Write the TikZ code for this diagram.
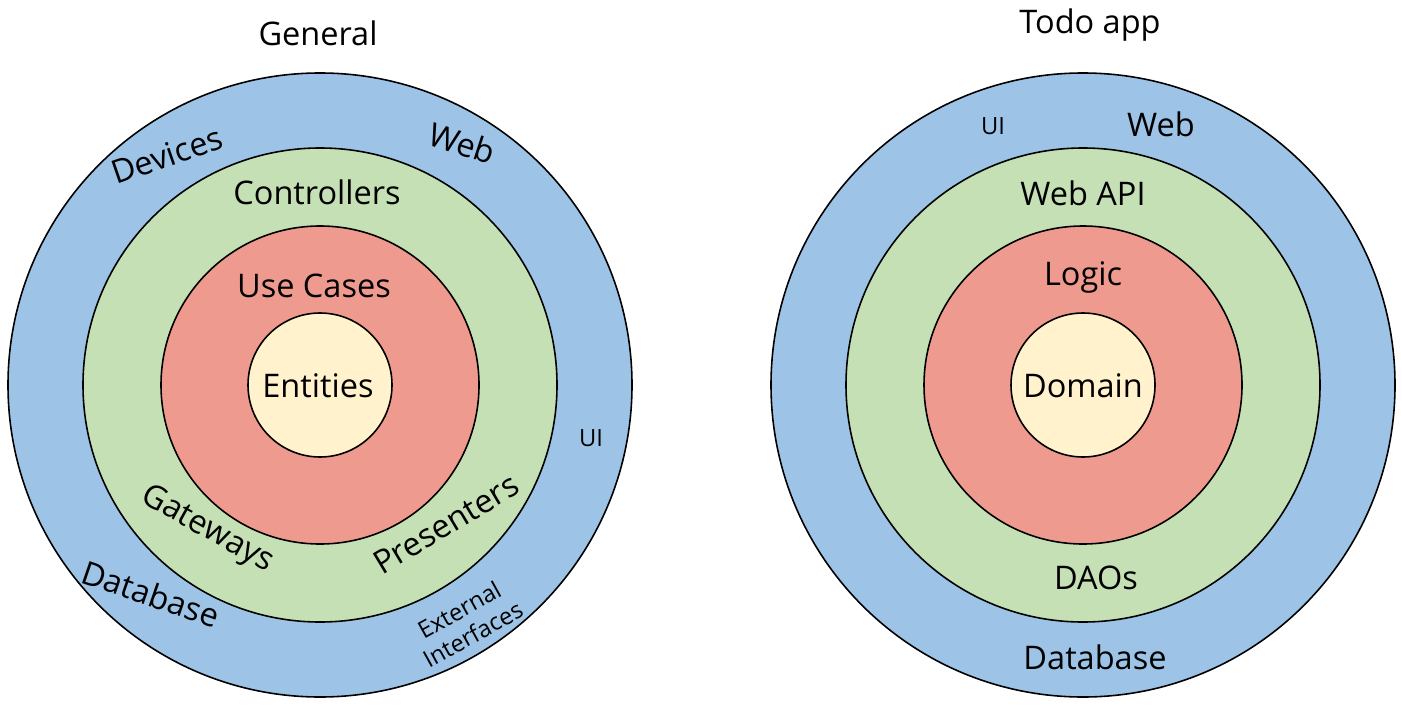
\documentclass[tikz,border=0pt]{standalone}
\usepackage{fontspec}
\setmainfont{Open Sans}
\usetikzlibrary{math}
\definecolor{ringblue}{RGB}{157,195,230}
\definecolor{ringgreen}{RGB}{197,224,180}
\definecolor{ringred}{RGB}{238,154,143}
\definecolor{ringyellow}{RGB}{255,242,204}
\tikzset{
  ring/.style={draw=black, line width=0.9pt},
  lbl/.style={font=\fontsize{18.5}{22}\selectfont, inner sep=0pt},
  smalllbl/.style={font=\fontsize{13.5}{16}\selectfont, inner sep=0pt, align=center}
}

\begin{document}
\begin{tikzpicture}[x=0.02cm,y=-0.02cm]
\tikzmath{
\ro=312*0.02;
\rg=237*0.02;
\rr=159*0.02;
\ry=72*0.02;
}
\useasboundingbox (0,0) rectangle (1402,706);

%left: general
\begin{scope}[shift={(320,385)}]
\fill[ringblue] (0,0) circle({\ro cm});
\draw[ring] (0,0) circle({\ro cm});
\fill[ringgreen] (0,0) circle({\rg cm});
\draw[ring] (0,0) circle({\rg cm});
\fill[ringred] (0,0) circle({\rr cm});
\draw[ring] (0,0) circle({\rr cm});
\fill[ringyellow] (0,0) circle({\ry cm});
\draw[ring] (0,0) circle({\ry cm});

\node[lbl] (entities) at (-2,1) {Entities};
\node[lbl] (usecases) at (-6,-99) {Use Cases};
\node[lbl] (controllers) at (-3,-193) {Controllers};
\node[lbl,rotate=-29] (gateways) at (-113,145) {Gateways};
\node[lbl,rotate=31] (presenters) at (126,139) {Presenters};
\node[lbl,rotate=19] (devices) at (-153,-230) {Devices};
\node[lbl,rotate=-18] (web) at (142,-242) {Web};
\node[lbl,rotate=-19] (database) at (-169,209) {Database};
\node[smalllbl] (ui) at (271,53) {UI};
\node[smalllbl,rotate=29] (external) at (146,237) {External\\Interfaces};
\end{scope}
\node[lbl] (general) at (318,33) {General};

%right: todo app
\begin{scope}[shift={(1083,385)}]
\fill[ringblue] (0,0) circle({\ro cm});
\draw[ring] (0,0) circle({\ro cm});
\fill[ringgreen] (0,0) circle({\rg cm});
\draw[ring] (0,0) circle({\rg cm});
\fill[ringred] (0,0) circle({\rr cm});
\draw[ring] (0,0) circle({\rr cm});
\fill[ringyellow] (0,0) circle({\ry cm});
\draw[ring] (0,0) circle({\ry cm});

\node[lbl] (domain) at (0,1) {Domain};
\node[lbl] (logic) at (0,-108) {Logic};
\node[lbl] (webapi) at (0,-192) {Web API};
\node[lbl] (daos) at (13,193) {DAOs};
\node[lbl] (database) at (12,272) {Database};
\node[smalllbl] (ui) at (-90,-259) {UI};
\node[lbl] (web) at (78,-261) {Web};
\end{scope}
\node[lbl] (todo) at (1090,25) {Todo app};
\end{tikzpicture}
\end{document}
